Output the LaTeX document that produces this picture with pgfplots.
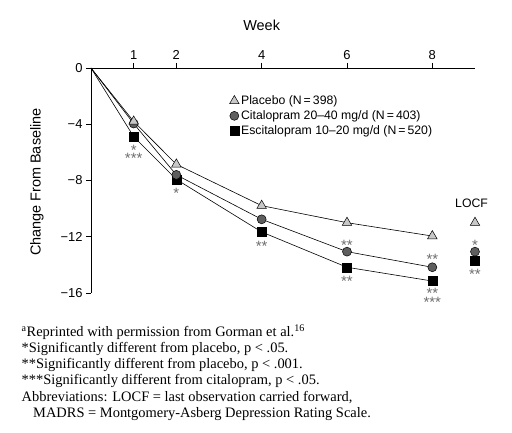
\documentclass[border=0pt]{standalone}
\usepackage{fontspec}
\setmainfont{Liberation Serif}
\setsansfont{Liberation Sans}
\usepackage{pgfplots}
\pgfplotsset{compat=1.18}
\definecolor{plac}{HTML}{C8C8C8}
\definecolor{cita}{HTML}{5E5E5E}
\definecolor{stargray}{HTML}{6E6E6E}
\newcommand\tightlines{\lineskiplimit=-20pt\relax\lineskip=0pt\relax}
\tikzset{star/.style={font=\sffamily\fontsize{15}{9}\selectfont\tightlines, text=stargray, anchor=north, inner sep=0pt, align=center}}
\begin{document}
\begin{tikzpicture}
\path[use as bounding box] (0,0) rectangle (512bp,433bp);
\begin{axis}[
  at={(91bp,140bp)}, anchor=south west,
  scale only axis, width=384bp, height=225bp,
  xmin=0, xmax=9, ymin=-16, ymax=0,
  axis x line=top, axis y line=left,
  axis line style={-, line width=0.8bp},
  tick align=outside, major tick length=5bp,
  tick style={line width=0.8bp, black},
  xtick={1,2,4,6,8}, xticklabels={1,2,4,6,8},
  ytick={0,-4,-8,-12,-16}, yticklabels={0,−4,−8,−12,−16},
  ticklabel style={font=\sffamily\fontsize{13}{13}\selectfont},
  xlabel={Week}, ylabel={Change From Baseline},
  label style={font=\sffamily\fontsize{14.5}{14.5}\selectfont},
  xlabel style={at={(axis description cs:0.4444,1)}, anchor=center, yshift=43bp},
  ylabel style={at={(axis description cs:-0.1406,0.493)}, anchor=center},
  clip=false,
  reverse legend,
  legend cell align=left,
  legend style={draw=none, fill=none, at={(axis cs:3.22,-1.75)}, anchor=north west,
    font=\sffamily\fontsize{12.3}{14}\selectfont, row sep=0.5bp, inner sep=1bp},
  legend image code/.code={\draw[#1] plot coordinates {(5bp,0bp)};},
  every axis plot/.append style={line width=0.6bp, black},
]
% lines
\addplot[forget plot, no marks] coordinates {(0,0) (1,-4.88) (2,-7.92) (4,-11.66) (6,-14.17) (8,-15.15)};
\addplot[forget plot, no marks] coordinates {(0,0) (1,-3.95) (2,-7.6) (4,-10.76) (6,-13.06) (8,-14.17)};
\addplot[forget plot, no marks] coordinates {(0,0) (1,-3.8) (2,-6.85) (4,-9.79) (6,-11.0) (8,-11.95)};
% Escitalopram
\addplot[only marks, mark=square*, mark size=4.5bp,
  mark options={solid, fill=black, draw=black, line width=0.5bp}]
  coordinates {(1,-4.88) (2,-7.92) (4,-11.66) (6,-14.17) (8,-15.15)};
\addlegendentry{Escitalopram 10–20 mg/d (N\,=\,520)}
% Citalopram
\addplot[only marks, mark=*, mark size=4.5bp,
  mark options={solid, fill=cita, draw=black, line width=0.5bp}]
  coordinates {(1,-3.95) (2,-7.6) (4,-10.76) (6,-13.06) (8,-14.17)};
\addlegendentry{Citalopram 20–40 mg/d (N\,=\,403)}
% Placebo
\addplot[only marks, mark=triangle*, mark size=5.5bp,
  mark options={solid, fill=plac, draw=black, line width=0.5bp}]
  coordinates {(1,-3.8) (2,-6.85) (4,-9.79) (6,-11.0) (8,-11.95)};
\addlegendentry{Placebo (N\,=\,398)}
% LOCF
\addplot[forget plot, only marks, mark=triangle*, mark size=5.5bp,
  mark options={solid, fill=plac, draw=black, line width=0.5bp}]
  coordinates {(9,-11.0)};
\addplot[forget plot, only marks, mark=square*, mark size=4.5bp,
  mark options={solid, fill=black, draw=black, line width=0.5bp}]
  coordinates {(9,-13.7)};
\addplot[forget plot, only marks, mark=*, mark size=4.5bp,
  mark options={solid, fill=cita, draw=black, line width=0.5bp}]
  coordinates {(9,-13.06)};
% significance stars
\node[star, font=\sffamily\fontsize{15}{8.7}\selectfont\tightlines] at (axis cs:1,-5.46) {*\\***};
\node[star] at (axis cs:2,-8.57) {*};
\node[star] at (axis cs:4,-12.31) {**};
\node[star] at (axis cs:6,-12.24) {**};
\node[star] at (axis cs:6,-14.80) {**};
\node[star] at (axis cs:8,-13.26) {**};
\node[star] at (axis cs:8,-15.63) {**\\***};
\node[star] at (axis cs:9,-12.20) {*};
\node[star] at (axis cs:9,-14.28) {**};
\node[font=\sffamily\fontsize{12.3}{12.3}\selectfont, anchor=center] at (axis cs:8.92,-9.62) {LOCF};
\end{axis}
\begin{scope}[every node/.style={anchor=base west, inner sep=0pt, font=\fontsize{14.5}{16}\selectfont}]
\node at (21.5bp,96.5bp) {\textsuperscript{a}Reprinted with permission from Gorman et al.\textsuperscript{16}};
\node at (21.5bp,80.3bp) {*Significantly different from placebo, p < .05.};
\node at (21.5bp,64.2bp) {**Significantly different from placebo, p < .001.};
\node at (21.5bp,48.0bp) {***Significantly different from citalopram, p < .05.};
\node at (21.5bp,31.9bp) {Abbreviations: LOCF = last observation carried forward,};
\node at (33bp,15.7bp) {MADRS = Montgomery-Asberg Depression Rating Scale.};
\end{scope}
\end{tikzpicture}
\end{document}
